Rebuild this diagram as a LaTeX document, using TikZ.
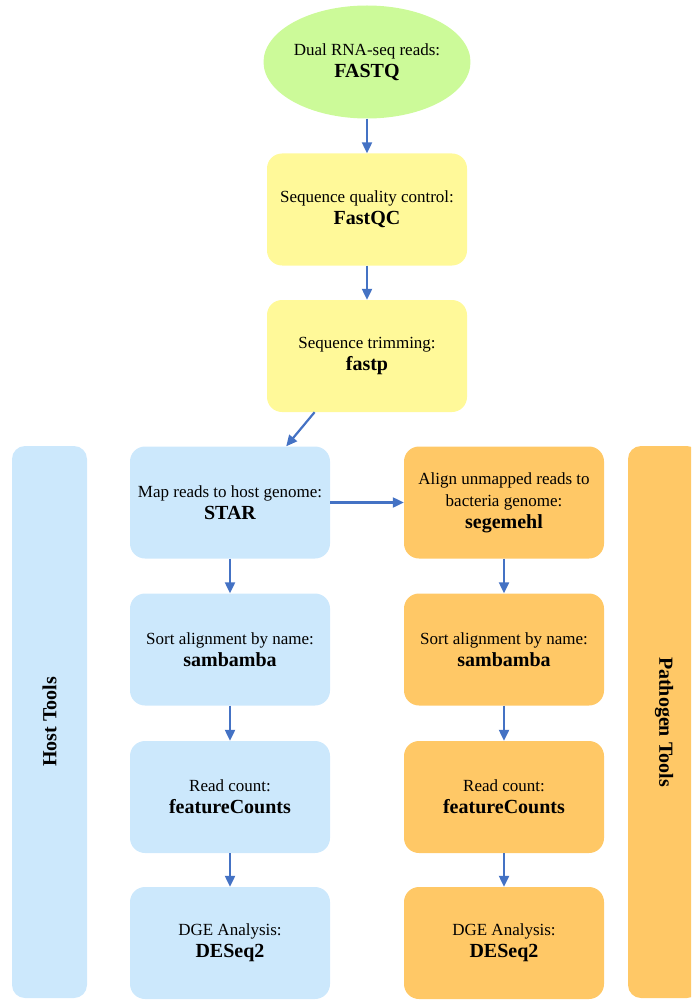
\documentclass[tikz,border=0pt]{standalone}
\usepackage{fontspec}
\setmainfont{Liberation Serif}
\usetikzlibrary{positioning, arrows.meta, shapes.geometric}

\definecolor{readsgreen}{RGB}{204,250,153}
\definecolor{qcyellow}{RGB}{255,249,153}
\definecolor{hostblue}{RGB}{204,232,252}
\definecolor{pathorange}{RGB}{255,200,102}
\definecolor{flowblue}{RGB}{68,114,196}

\newcommand{\toolname}[1]{{\fontsize{20}{22}\selectfont\bfseries #1}}

\begin{document}
\begin{tikzpicture}[x=1pt,y=-1pt]
	% styles of the boxes and arrows
	\tikzset{
		stepbox/.style={
			rounded corners=15pt, inner sep=0pt,
			minimum width=200pt, minimum height=112pt,
			align=center, font=\fontsize{17}{22}\selectfont
		},
		hoststep/.style={stepbox, fill=hostblue},
		pathstep/.style={stepbox, fill=pathorange},
		prepstep/.style={stepbox, fill=qcyellow},
		toolbar/.style={
			rounded corners=13pt, inner sep=0pt,
			minimum width=552pt, font=\fontsize{20}{22}\selectfont\bfseries
		},
		flow/.style={
			draw=flowblue, line width=2.2pt,
			-{Triangle[width=10pt,length=11pt]}
		}
	}
	\clip (0,0) rectangle (691,1000);

	% side bars
	\node[toolbar, fill=hostblue, minimum height=75pt, rotate=90] (hostbar) at (49.5,722) {Host Tools};
	\node[toolbar, fill=pathorange, minimum height=72pt, rotate=-90] (pathbar) at (664,722) {Pathogen Tools};

	% input and preprocessing
	\node[ellipse, fill=readsgreen, inner sep=0pt, minimum width=200pt, minimum height=113pt,
		align=center, font=\fontsize{17}{22}\selectfont] (reads) at (367,62)
		{Dual RNA-seq reads:\\\toolname{FASTQ}};
	\node[prepstep] (fastqc) at (367,209.5) {Sequence quality control:\\\toolname{FastQC}};
	\node[prepstep] (fastp) at (367,356) {Sequence trimming:\\\toolname{fastp}};

	% host branch
	\node[hoststep] (hmap) at (230,502.5) {Map reads to host genome:\\\toolname{STAR}};
	\node[hoststep] (hsort) at (230,649.5) {Sort alignment by name:\\\toolname{sambamba}};
	\node[hoststep] (hcount) at (230,797) {Read count:\\\toolname{featureCounts}};
	\node[hoststep] (hdge) at (230,943) {DGE Analysis:\\\toolname{DESeq2}};

	% pathogen branch
	\node[pathstep] (palign) at (504,502.5) {Align unmapped reads to\\bacteria genome:\\\toolname{segemehl}};
	\node[pathstep] (psort) at (504,649.5) {Sort alignment by name:\\\toolname{sambamba}};
	\node[pathstep] (pcount) at (504,797) {Read count:\\\toolname{featureCounts}};
	\node[pathstep] (pdge) at (504,943) {DGE Analysis:\\\toolname{DESeq2}};

	% arrows
	\draw[flow] (reads) -- (fastqc);
	\draw[flow] (fastqc) -- (fastp);
	\draw[flow] (fastp.227) -- (hmap.45);
	\draw[flow] (hmap.east) -- (palign.west);
	\foreach \a/\b in {hmap/hsort, hsort/hcount, hcount/hdge, palign/psort, psort/pcount, pcount/pdge}
		\draw[flow] (\a) -- (\b);
\end{tikzpicture}
\end{document}
